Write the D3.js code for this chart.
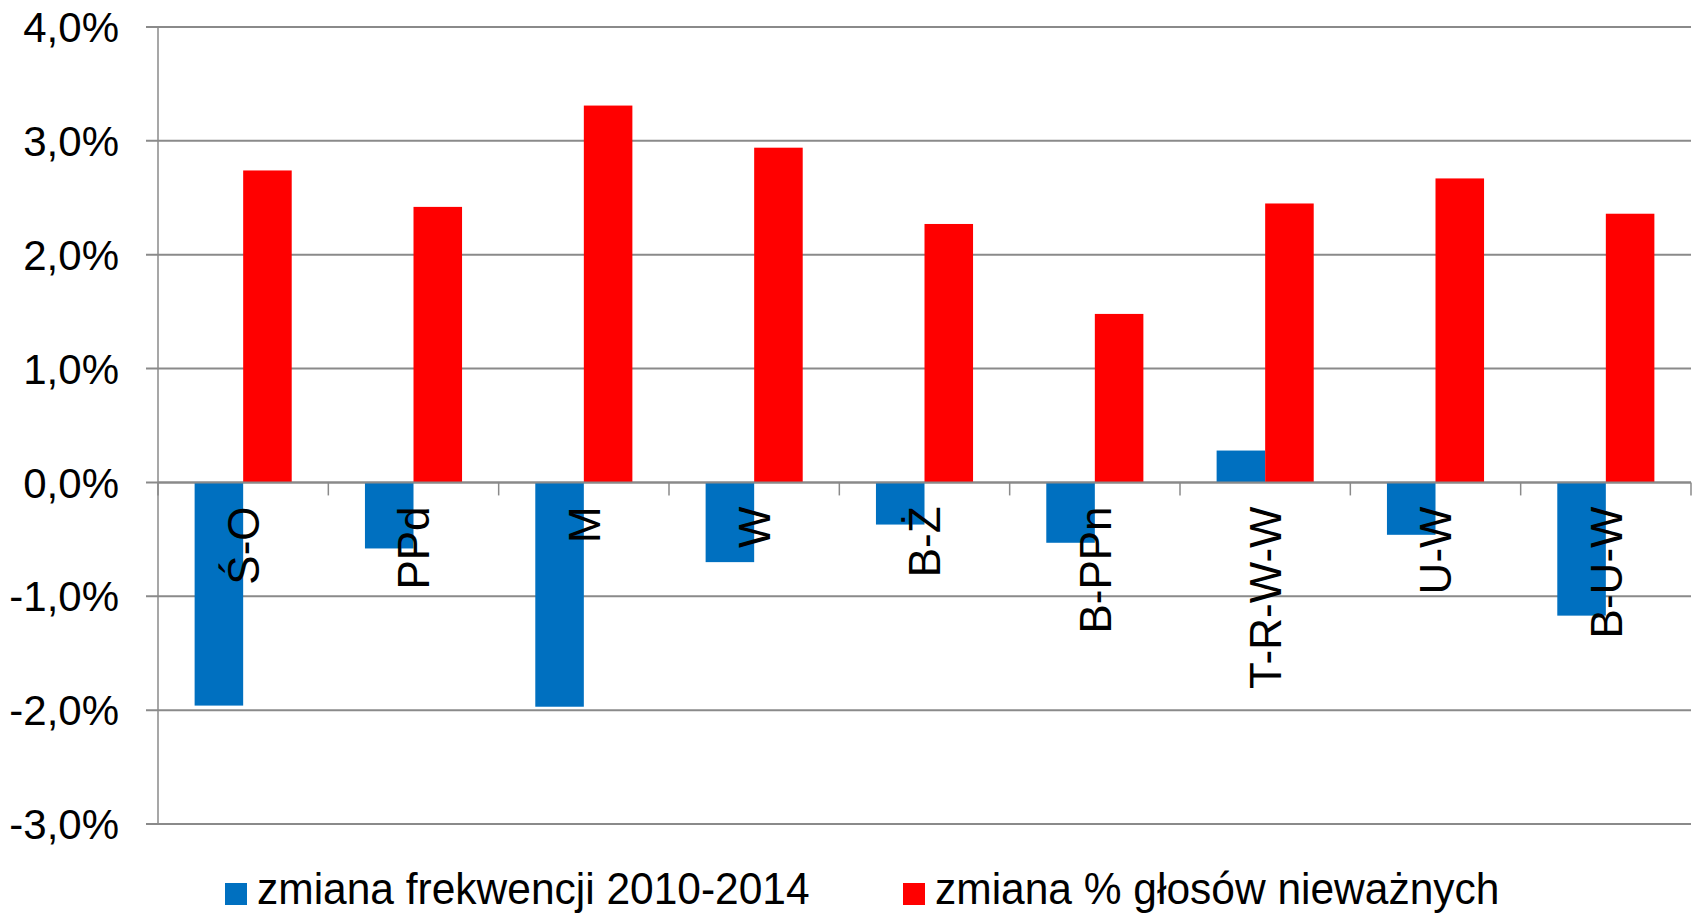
<!DOCTYPE html>
<html>
<head>
<meta charset="utf-8">
<script src="https://cdn.jsdelivr.net/npm/d3@7"></script>
<style>
  body { margin: 0; background: #fff; }
  svg { display: block; font-family: "Liberation Sans", Arial, sans-serif; }
</style>
</head>
<body>
<div id="chart"></div>
<script>
// categories and the two series (values in %)
var categories = ["Ś-O", "PPd", "M", "W", "B-Ż", "B-PPn", "T-R-W-W", "U-W", "B-U-W"];
var turnout = [-1.96, -0.58, -1.97, -0.70, -0.37, -0.53, 0.28, -0.46, -1.17];
var invalid = [2.74, 2.42, 3.31, 2.94, 2.27, 1.48, 2.45, 2.67, 2.36];
var seriesNames = ["zmiana frekwencji 2010-2014", "zmiana % głosów nieważnych"];
var seriesColors = ["#0070C0", "#FF0000"];
var yTicks = [-3, -2, -1, 0, 1, 2, 3, 4];

var W = 1700, H = 915;
var margin = {top: 27, right: 9, bottom: 91, left: 158};

var svg = d3.select("#chart").append("svg")
    .attr("width", W)
    .attr("height", H);

// polish style number format, 4,0%
var pl = d3.formatLocale({decimal: ",", thousands: " ", grouping: [3], currency: ["", ""], minus: "-"});
var fmt = pl.format(".1f");

var x = d3.scaleBand()
    .domain(categories)
    .range([margin.left, W - margin.right])
    .padding(0);

var y = d3.scaleLinear()
    .domain([-3, 4])
    .range([H - margin.bottom, margin.top]);

// inner scale for the two bars in each group
var groupW = x.bandwidth() * 0.57;
var x1 = d3.scaleBand()
    .domain([0, 1])
    .range([0, groupW]);

// gridlines
svg.append("g")
    .selectAll("line")
    .data(yTicks)
    .join("line")
    .attr("x1", margin.left - 12)
    .attr("x2", W - margin.right)
    .attr("y1", function(d) { return y(d); })
    .attr("y2", function(d) { return y(d); })
    .attr("stroke", "#8a8a8a")
    .attr("stroke-width", 2);

// y axis line
svg.append("line")
    .attr("x1", margin.left).attr("x2", margin.left)
    .attr("y1", y(4)).attr("y2", y(-3))
    .attr("stroke", "#8a8a8a")
    .attr("stroke-width", 1.5);

// y labels
svg.append("g")
    .selectAll("text")
    .data(yTicks)
    .join("text")
    .attr("x", 119)
    .attr("y", function(d) { return y(d); })
    .attr("dy", "0.36em")
    .attr("text-anchor", "end")
    .attr("font-size", 42)
    .attr("fill", "#000")
    .text(function(d) { return fmt(d) + "%"; });

// bars
var rows = categories.map(function(c, i) { return {cat: c, vals: [turnout[i], invalid[i]]}; });

var groups = svg.append("g")
    .selectAll("g")
    .data(rows)
    .join("g")
    .attr("transform", function(d) {
        return "translate(" + (x(d.cat) + (x.bandwidth() - groupW) / 2) + ",0)";
    });

groups.selectAll("rect")
    .data(function(d) { return d.vals.map(function(v, k) { return {k: k, v: v}; }); })
    .join("rect")
    .attr("x", function(d) { return x1(d.k); })
    .attr("width", x1.bandwidth())
    .attr("y", function(d) { return y(Math.max(0, d.v)); })
    .attr("height", function(d) { return Math.abs(y(d.v) - y(0)); })
    .attr("fill", function(d) { return seriesColors[d.k]; });

// zero line on top of the bars
svg.append("line")
    .attr("x1", margin.left).attr("x2", W - margin.right)
    .attr("y1", y(0)).attr("y2", y(0))
    .attr("stroke", "#8a8a8a")
    .attr("stroke-width", 2);

// category tick marks at band edges
var edges = categories.map(function(c) { return x(c); }).concat([W - margin.right]);
svg.append("g")
    .selectAll("line")
    .data(edges)
    .join("line")
    .attr("x1", function(d) { return d; })
    .attr("x2", function(d) { return d; })
    .attr("y1", y(0))
    .attr("y2", y(0) + 13)
    .attr("stroke", "#8a8a8a")
    .attr("stroke-width", 1.5);

// rotated category labels
svg.append("g")
    .selectAll("text")
    .data(categories)
    .join("text")
    .attr("transform", function(d) {
        return "translate(" + (x(d) + x.bandwidth() / 2) + "," + (y(0) + 24) + ") rotate(-90)";
    })
    .attr("dy", "0.36em")
    .attr("text-anchor", "end")
    .attr("font-size", 44)
    .attr("fill", "#000")
    .text(function(d) { return d; });

// legend
var legendX = [225, 903];
var leg = svg.append("g")
    .selectAll("g")
    .data(seriesNames)
    .join("g")
    .attr("transform", function(d, i) { return "translate(" + legendX[i] + ",883)"; });

leg.append("rect")
    .attr("width", 22)
    .attr("height", 22)
    .attr("fill", function(d, i) { return seriesColors[i]; });

// keep descenders inside the picture
leg.append("text")
    .attr("transform", "translate(32,21) scale(1,1.04)")
    .attr("font-size", 42.5)
    .attr("fill", "#000")
    .text(function(d) { return d; });
</script>
</body>
</html>
